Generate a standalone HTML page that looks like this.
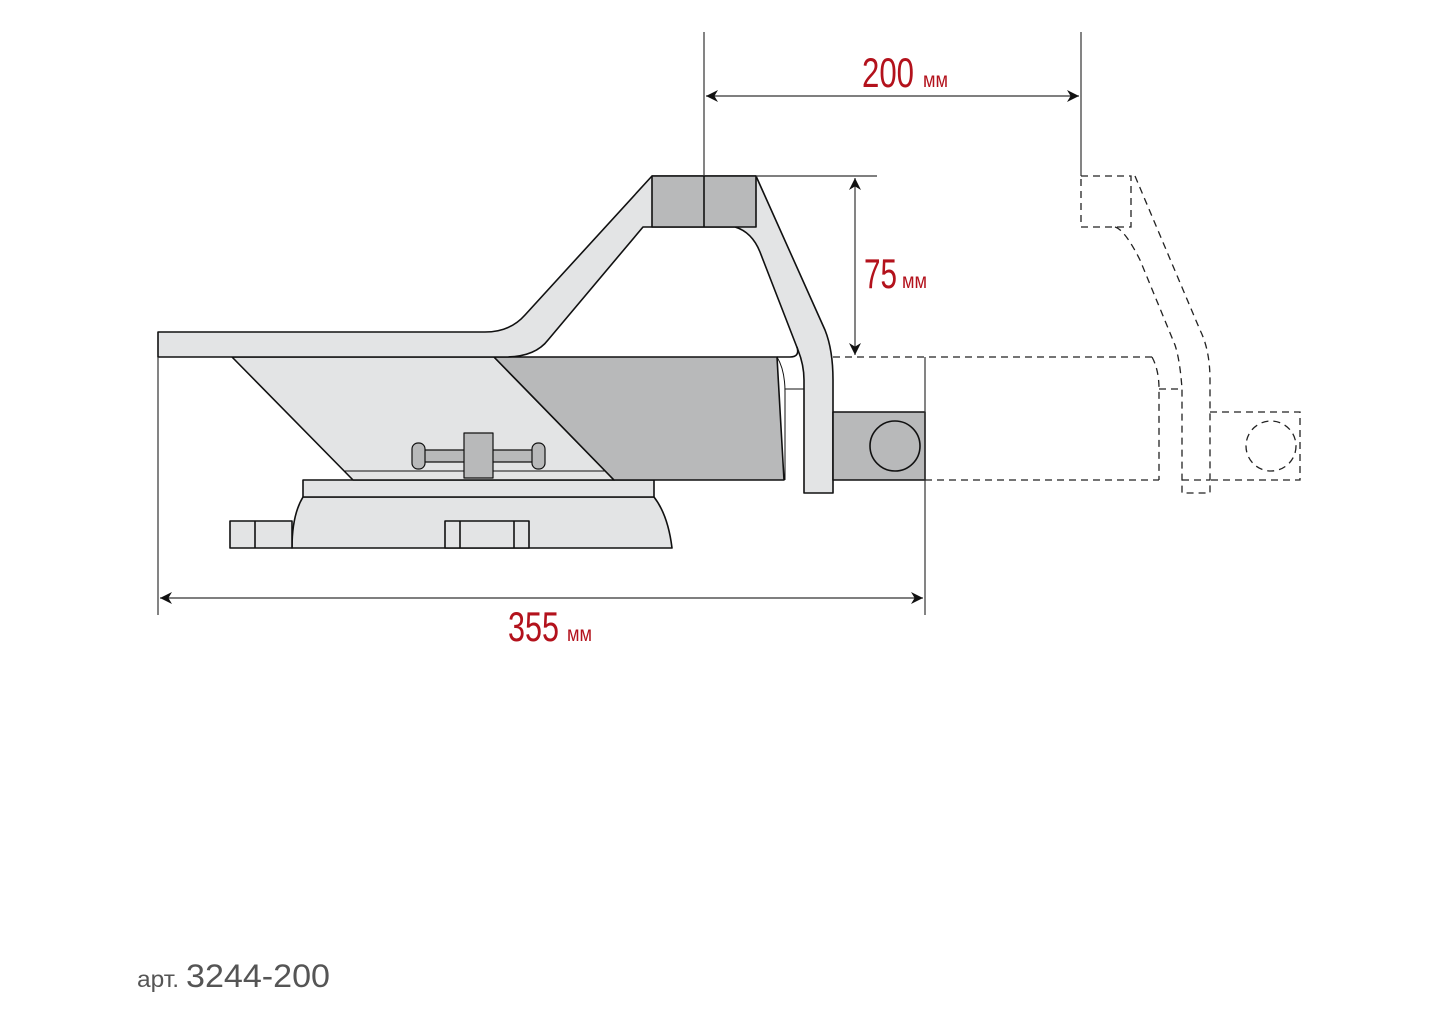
<!DOCTYPE html>
<html><head><meta charset="utf-8"><style>
html,body{margin:0;padding:0;background:#fff;width:1440px;height:1024px;overflow:hidden}
svg{display:block}
.d{font-family:"Liberation Sans",sans-serif;fill:#b3121c}
</style></head><body>
<svg width="1440" height="1024" viewBox="0 0 1440 1024" xmlns="http://www.w3.org/2000/svg">
<defs>
<marker id="ar" viewBox="0 0 10 10" refX="10" refY="5" markerWidth="17" markerHeight="12" orient="auto-start-reverse" markerUnits="userSpaceOnUse"><path d="M0,0 L10,5 L0,10 L3,5 Z" fill="#111"/></marker>
</defs>
<g stroke="#111" stroke-width="1.6" stroke-linejoin="round">
<path d="M303,497 L654,497 Q668,515 672,548 L292,548 Q292,515 303,497 Z" fill="#e3e4e5"/>
<rect x="230" y="521" width="62" height="27" fill="#e3e4e5"/>
<line x1="255" y1="521" x2="255" y2="548"/>
<rect x="445" y="521" width="84" height="27" fill="#e3e4e5"/>
<line x1="460" y1="521" x2="460" y2="548"/><line x1="514" y1="521" x2="514" y2="548"/>
<rect x="303" y="480" width="351" height="17" fill="#e3e4e5"/>
<polygon points="232,357 494,357 614,480 353,480" fill="#e3e4e5"/>
<line x1="345" y1="471" x2="607" y2="471" stroke-width="1"/>
<polygon points="494,357 777,357 784,480 614,480" fill="#b8b9ba"/>
<path d="M158,332 L485,332 Q510,332 525,315 L652,176 L756,176 L825,330 Q833,350 833,380 L833,493 L804,493 L804,380 Q804,365 798,350 L760,252 Q752,232 735,227 L643,227 L548,340 Q535,357 505,357 L158,357 Z" fill="#e3e4e5"/>
<path d="M777,357 L790,357 Q800,357 797,347" fill="none"/>
<path d="M777,357 Q785,370 785,392 L785,480" fill="none" stroke-width="1"/>
<line x1="785" y1="389" x2="804" y2="389" stroke-width="1"/>
<rect x="652" y="176" width="104" height="51" fill="#b8b9ba"/>
<line x1="704" y1="176" x2="704" y2="227"/>
<rect x="833" y="412" width="92" height="68" fill="#b8b9ba"/>
<circle cx="895" cy="446" r="25" fill="#b8b9ba"/>
<rect x="420" y="450" width="116" height="12" rx="3" fill="#b8b9ba" stroke-width="1.2"/>
<rect x="412" y="443" width="13" height="26" rx="6" fill="#b8b9ba" stroke-width="1.2"/>
<rect x="532" y="443" width="13" height="26" rx="6" fill="#b8b9ba" stroke-width="1.2"/>
<rect x="464" y="433" width="29" height="45" fill="#b8b9ba" stroke-width="1.2"/>
</g>
<g stroke="#333" stroke-width="1.2" fill="none">
<line x1="704" y1="32" x2="704" y2="176"/>
<line x1="1081" y1="32" x2="1081" y2="176"/>
<line x1="706" y1="96" x2="1079" y2="96" marker-start="url(#ar)" marker-end="url(#ar)"/>
<line x1="756" y1="176" x2="877" y2="176"/>
<line x1="855" y1="178" x2="855" y2="355" marker-start="url(#ar)" marker-end="url(#ar)"/>
<line x1="158" y1="357" x2="158" y2="615"/>
<line x1="925" y1="357" x2="925" y2="615"/>
<line x1="160" y1="598" x2="923" y2="598" marker-start="url(#ar)" marker-end="url(#ar)"/>
</g>
<g stroke="#222" stroke-width="1.3" fill="none" stroke-dasharray="7,5">
<line x1="833" y1="357" x2="1152" y2="357"/>
<line x1="925" y1="480" x2="1159" y2="480"/>
<rect x="1081" y="176" width="50" height="51"/>
<path d="M1135,176 L1200,330 Q1210,350 1210,380 L1210,493 L1182,493 L1182,389"/>
<path d="M1115,227 Q1125,230 1140,260 L1175,345 Q1180,360 1182,389"/>
<path d="M1152,357 Q1159,370 1159,389 L1159,480"/>
<line x1="1159" y1="389" x2="1182" y2="389"/>
<path d="M1210,412 L1300,412 L1300,480 L1210,480"/>
<line x1="1182" y1="480" x2="1210" y2="480"/>
<circle cx="1271" cy="446" r="25"/>
</g>
<text class="d" x="862" y="87" font-size="42" textLength="52" lengthAdjust="spacingAndGlyphs">200</text>
<text class="d" x="923" y="87" font-size="21" textLength="25" lengthAdjust="spacingAndGlyphs">мм</text>
<text class="d" x="864" y="288" font-size="42" textLength="33" lengthAdjust="spacingAndGlyphs">75</text>
<text class="d" x="902" y="288" font-size="21" textLength="25" lengthAdjust="spacingAndGlyphs">мм</text>
<text class="d" x="508" y="641" font-size="42" textLength="51" lengthAdjust="spacingAndGlyphs">355</text>
<text class="d" x="567" y="641" font-size="21" textLength="25" lengthAdjust="spacingAndGlyphs">мм</text>
<text x="137" y="987" font-family="'Liberation Sans',sans-serif" fill="#555" font-size="23" textLength="42" lengthAdjust="spacingAndGlyphs">арт.</text>
<text x="186" y="987" font-family="'Liberation Sans',sans-serif" fill="#555" font-size="32" textLength="144" lengthAdjust="spacingAndGlyphs">3244-200</text>
</svg>
</body></html>
